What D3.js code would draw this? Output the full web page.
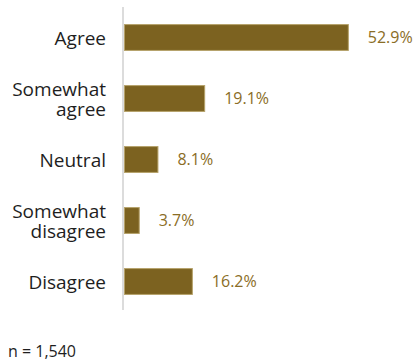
<!DOCTYPE html>
<html>
<head>
<meta charset="utf-8">
<script src="https://cdn.jsdelivr.net/npm/d3@7"></script>
<style>
  html, body { margin: 0; padding: 0; background: #fff; }
  svg { display: block; font-family: "Open Sans", "Noto Sans", sans-serif; }
</style>
</head>
<body>
<div id="chart"></div>
<script>
const categories = ["Agree", "Somewhat agree", "Neutral", "Somewhat disagree", "Disagree"];
const categoryLines = [["Agree"], ["Somewhat", "agree"], ["Neutral"], ["Somewhat", "disagree"], ["Disagree"]];
const values = [52.9, 19.1, 8.1, 3.7, 16.2];
const valueLabels = ["52.9%", "19.1%", "8.1%", "3.7%", "16.2%"];
const note = "n = 1,540";

const W = 414, H = 364;
const svg = d3.select("#chart").append("svg").attr("width", W).attr("height", H);

const y = d3.scaleBand().domain(categories).range([7, 312]).paddingInner(0.56).paddingOuter(0.28);
const x = d3.scaleLinear().domain([0, 100]).range([124, 549]);

// axis line
svg.append("line")
  .attr("x1", 123).attr("x2", 123).attr("y1", 7).attr("y2", 310)
  .attr("stroke", "#dcdcdc").attr("stroke-width", 2);

// bars
svg.selectAll("rect.bar").data(values).enter().append("rect")
  .attr("class", "bar")
  .attr("x", x(0) + 0.5)
  .attr("y", (d, i) => y(categories[i]) + 0.5)
  .attr("width", d => x(d) - x(0) - 1)
  .attr("height", y.bandwidth() - 1)
  .attr("fill", "#7c6220")
  .attr("stroke", "#b5a169")
  .attr("stroke-width", 1);

// value labels
svg.selectAll("text.val").data(values).enter().append("text")
  .attr("class", "val")
  .attr("x", d => x(d) + 19)
  .attr("y", (d, i) => y(categories[i]) + y.bandwidth() / 2)
  .attr("dy", "0.35em")
  .attr("fill", "#8a6d26")
  .attr("font-size", 16)
  .text((d, i) => valueLabels[i]);

// category labels (one text element per line)
const lineH = 20;
categories.forEach((c, i) => {
  const lines = categoryLines[i];
  const cy = y(c) + y.bandwidth() / 2;
  lines.forEach((ln, j) => {
    svg.append("text")
      .attr("x", 106)
      .attr("y", cy + (j - (lines.length - 1) / 2) * lineH)
      .attr("dy", "0.38em")
      .attr("text-anchor", "end")
      .attr("fill", "#1e1e1e")
      .attr("font-size", 19)
      .text(ln);
  });
});

// note
svg.append("text")
  .attr("x", 8).attr("y", 357)
  .attr("fill", "#1e1e1e")
  .attr("font-size", 16)
  .text(note);
</script>
</body>
</html>
